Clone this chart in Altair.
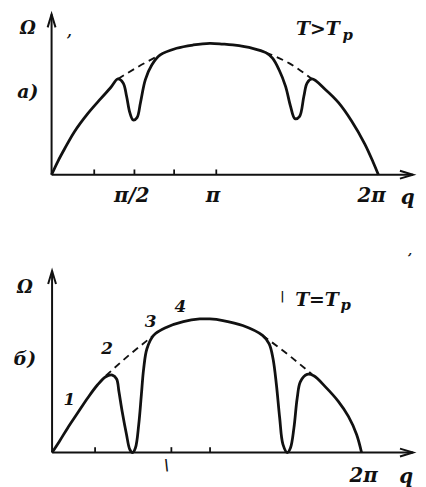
import altair as alt
import pandas as pd

# ---------------- data ----------------
# q in units of pi, Omega in units of the dome maximum

# panel a)  T > Tp
top_q = [0, 0.038, 0.079, 0.139, 0.220, 0.301, 0.362, 0.406, 0.438, 0.459, 0.479, 0.499,
         0.523, 0.544, 0.574, 0.614, 0.665, 0.765, 0.867, 0.968, 1.048, 1.109, 1.230, 1.311,
         1.352, 1.392, 1.432, 1.462, 1.489, 1.517, 1.544, 1.564, 1.594, 1.675, 1.756, 1.836,
         1.917, 1.968, 2.0]
top_w = [0, 0.100, 0.195, 0.325, 0.462, 0.578, 0.662, 0.727, 0.697, 0.596, 0.471, 0.416,
         0.434, 0.547, 0.722, 0.835, 0.910, 0.960, 0.985, 0.998, 0.992, 0.985, 0.960, 0.927,
         0.885, 0.797, 0.671, 0.521, 0.426, 0.441, 0.596, 0.697, 0.727, 0.647, 0.547, 0.408,
         0.233, 0.095, 0]
top_dash_q = [0.406, 0.533, 0.665, 1.311, 1.453, 1.594]
top_dash_w = [0.727, 0.822, 0.910, 0.927, 0.847, 0.727]
top_dash_seg = [1, 1, 1, 2, 2, 2]
top_ticks = [0.261, 0.507, 0.750, 1.008]

# panel б)  T = Tp
bot_q = [0, 0.048, 0.101, 0.165, 0.229, 0.293, 0.347, 0.389, 0.417, 0.432, 0.453, 0.481,
         0.502, 0.520, 0.539, 0.560, 0.577, 0.592, 0.613, 0.656, 0.741, 0.848, 0.955, 1.019,
         1.104, 1.232, 1.360, 1.403, 1.428, 1.450, 1.471, 1.492, 1.520, 1.541, 1.563, 1.584,
         1.605, 1.648, 1.691, 1.765, 1.851, 1.915, 1.968, 2.0]
bot_w = [0, 0.085, 0.184, 0.295, 0.406, 0.505, 0.567, 0.579, 0.550, 0.456, 0.307, 0.135,
         0.024, 0, 0.036, 0.209, 0.431, 0.628, 0.776, 0.876, 0.937, 0.979, 0.999, 0.999,
         0.987, 0.950, 0.876, 0.813, 0.702, 0.505, 0.258, 0.061, 0, 0.036, 0.184, 0.406,
         0.530, 0.584, 0.574, 0.493, 0.381, 0.270, 0.135, 0]
bot_dash_q = [0.347, 0.496, 0.656, 1.360, 1.531, 1.680]
bot_dash_w = [0.574, 0.727, 0.876, 0.876, 0.727, 0.584]
bot_dash_seg = [1, 1, 1, 2, 2, 2]
bot_ticks = [0.278, 0.771, 1.021]

# texts: (label, q, Omega, font size)
top_texts = [("Ω", -0.145, 1.105, 18), ("а)", -0.145, 0.624, 19),
             ("T>T", 1.630, 1.105, 19), ("p", 1.812, 1.062, 15),
             ("π/2", 0.491, -0.165, 20), ("π", 0.988, -0.165, 20),
             ("2π", 1.958, -0.165, 20), ("q", 2.180, -0.175, 20),
             (",", 0.109, 1.080, 14)]
bot_texts = [("Ω", -0.176, 1.233, 18), ("б)", -0.176, 0.700, 19),
             ("T=T", 1.712, 1.144, 19), ("p", 1.897, 1.103, 15),
             ("1", 0.112, 0.396, 17), ("2", 0.355, 0.774, 17),
             ("3", 0.637, 0.974, 17), ("4", 0.829, 1.085, 17),
             ("2π", 2.013, -0.174, 20), ("q", 2.288, -0.184, 20),
             ("|", 1.488, 1.174, 12), ("\\", 0.739, -0.100, 14),
             (",", 2.314, 1.507, 12)]

# axis arrow tips (q, Omega)
top_tips = {"y": 1.218, "x": 2.212}
bot_tips = {"y": 1.359, "x": 2.333}

INK = "#111111"
FONT = "DejaVu Serif"


def panel(cq, cw, dq, dw, dseg, ticks, texts, tips, xdom, ydom, w, h, ticklen):
    X = lambda f: alt.X(f, type="quantitative", scale=alt.Scale(domain=xdom, nice=False, zero=False), axis=None)
    Y = lambda f: alt.Y(f, type="quantitative", scale=alt.Scale(domain=ydom, nice=False, zero=False), axis=None)

    curve = pd.DataFrame({"q": cq, "w": cw, "i": range(len(cq))})
    dash = pd.DataFrame({"q": dq, "w": dw, "seg": dseg})
    tk = pd.DataFrame({"q": ticks, "w0": [0] * len(ticks), "w1": [ticklen] * len(ticks)})
    axes = pd.DataFrame({"x": [0, 0], "x2": [0, tips["x"]], "y": [0, 0], "y2": [tips["y"], 0]})
    tx = pd.DataFrame(texts, columns=["label", "q", "w", "fs"])
    up = pd.DataFrame({"q": [0], "w": [tips["y"]]})
    right = pd.DataFrame({"q": [tips["x"]], "w": [0]})

    axis_lines = alt.Chart(axes).mark_rule(color=INK, strokeWidth=2).encode(
        x=X("x"), x2="x2", y=Y("y"), y2="y2")
    tick_marks = alt.Chart(tk).mark_rule(color=INK, strokeWidth=1.8).encode(
        x=X("q"), y=Y("w0"), y2="w1")
    arrow_up = alt.Chart(up).mark_point(
        shape="M-0.3,1L0,0L0.3,1", filled=False, size=700, color=INK, strokeWidth=2, opacity=1
    ).encode(x=X("q"), y=Y("w"))
    arrow_right = alt.Chart(right).mark_point(
        shape="M-1,-0.3L0,0L-1,0.3", filled=False, size=700, color=INK, strokeWidth=2, opacity=1
    ).encode(x=X("q"), y=Y("w"))
    line = alt.Chart(curve).mark_line(color=INK, strokeWidth=2.8, interpolate="catmull-rom").encode(
        x=X("q"), y=Y("w"), order="i:Q")
    dashed = alt.Chart(dash).mark_line(color=INK, strokeWidth=1.9, strokeDash=[7, 5],
                                       interpolate="monotone").encode(
        x=X("q"), y=Y("w"), detail="seg:N")
    labels = alt.Chart(tx).mark_text(color=INK, font=FONT, fontStyle="italic", fontWeight="bold",
                                     align="center", baseline="middle").encode(
        x=X("q"), y=Y("w"), text="label:N", size=alt.Size("fs:Q", scale=None, legend=None))
    return alt.layer(axis_lines, tick_marks, arrow_up, arrow_right, dashed, line, labels).properties(
        width=w, height=h)


top = panel(top_q, top_w, top_dash_q, top_dash_w, top_dash_seg, top_ticks, top_texts, top_tips,
            [-0.2667, 2.2182], [-0.4887, 1.2256], 410, 228, 0.04)
bot = panel(bot_q, bot_w, bot_dash_q, bot_dash_w, bot_dash_seg, bot_ticks, bot_texts, bot_tips,
            [-0.2848, 2.3392], [-0.2407, 1.5963], 410, 248, 0.04)

chart = alt.vconcat(top, bot, spacing=0).properties(padding=0, background="white").configure_view(
    stroke=None)

chart.save("out.html", embed_options={"renderer": "svg", "actions": False})
